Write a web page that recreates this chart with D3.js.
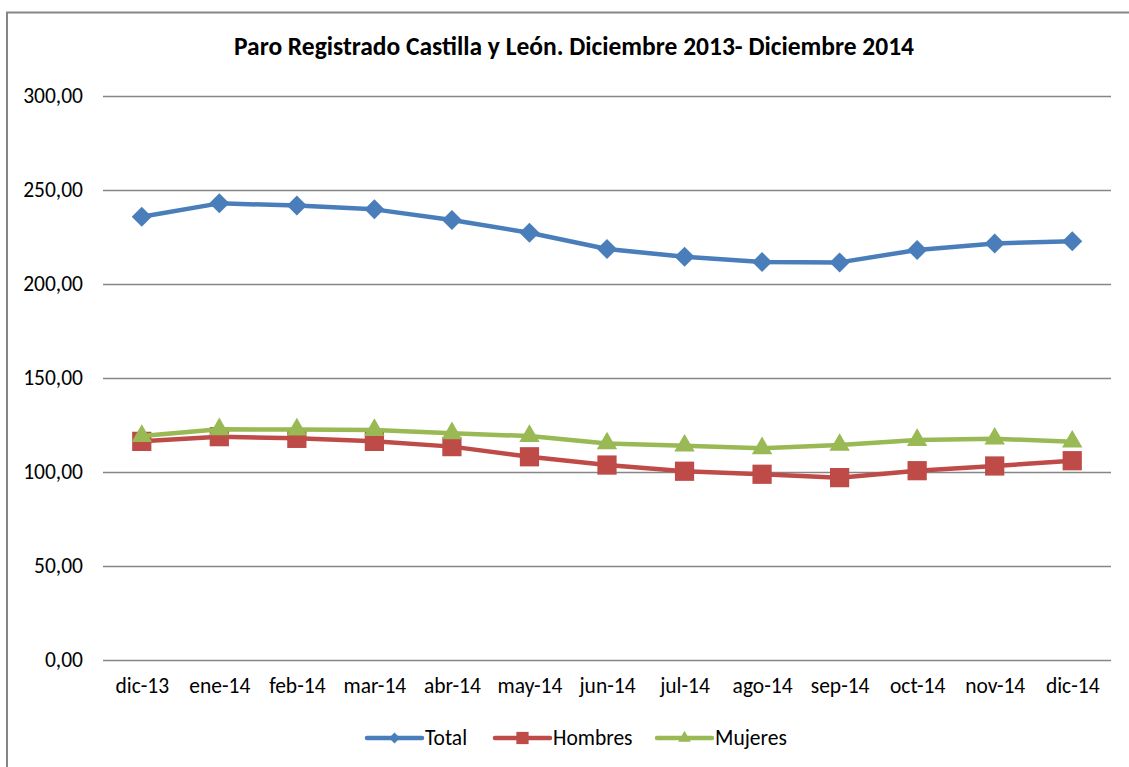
<!DOCTYPE html>
<html>
<head>
<meta charset="utf-8">
<script src="https://cdn.jsdelivr.net/npm/d3@7/dist/d3.min.js"></script>
<style>
  body { margin: 0; background: #fff; }
  text { font-family: Carlito, Lato, "Open Sans", sans-serif; fill: #000; }
</style>
</head>
<body>
<div id="chart"></div>
<script>
"use strict";

var months = ["dic-13", "ene-14", "feb-14", "mar-14", "abr-14", "may-14", "jun-14",
              "jul-14", "ago-14", "sep-14", "oct-14", "nov-14", "dic-14"];
var total   = [235.8, 242.9, 241.7, 239.7, 234.0, 227.3, 218.6, 214.5, 211.7, 211.5, 218.1, 221.6, 222.7];
var hombres = [116.3, 118.8, 117.9, 116.3, 113.5, 108.1, 103.7, 100.4, 98.8, 97.0, 100.7, 103.2, 106.0];
var mujeres = [119.1, 122.7, 122.6, 122.3, 120.6, 119.1, 115.2, 114.0, 112.6, 114.4, 117.0, 117.7, 116.1];
var yTicks  = [0, 50, 100, 150, 200, 250, 300];

var width = 1129, height = 767;
var plot = { left: 103, right: 1111, top: 96, bottom: 660 };
var labelFont = "21.5px";

var series = [
    { name: "Total",   values: total,   color: "#4A7EBB", symbol: d3.symbolSquare,   rotate: 45, size: 200, legendSize: 60 },
    { name: "Hombres", values: hombres, color: "#BE4B48", symbol: d3.symbolSquare,   rotate: 0,  size: 370, legendSize: 150 },
    { name: "Mujeres", values: mujeres, color: "#98B954", symbol: d3.symbolTriangle, rotate: 0,  size: 180, legendSize: 70 }
];

var svg = d3.select("#chart").append("svg")
    .attr("width", width)
    .attr("height", height);

// chart frame (right and bottom edges fall outside the picture)
svg.append("rect")
    .attr("x", 7).attr("y", 12.5)
    .attr("width", 1140).attr("height", 780)
    .attr("fill", "#fff")
    .attr("stroke", "#868686")
    .attr("stroke-width", 2);

svg.append("text")
    .attr("x", 574).attr("y", 55)
    .attr("text-anchor", "middle")
    .style("font-weight", "bold")
    .style("font-size", "25.5px")
    .text("Paro Registrado Castilla y León. Diciembre 2013- Diciembre 2014");

var x = d3.scalePoint()
    .domain(months)
    .range([plot.left, plot.right])
    .padding(0.5);

var y = d3.scaleLinear()
    .domain([0, 300])
    .range([plot.bottom, plot.top]);

var fmt = function (v) { return d3.format(".2f")(v).replace(".", ","); };

// gridlines + y labels
var yAxis = svg.append("g")
    .attr("transform", "translate(" + plot.left + ",0)")
    .call(d3.axisLeft(y).tickValues(yTicks).tickSize(-(plot.right - plot.left)).tickPadding(20).tickFormat(fmt));
yAxis.select(".domain").remove();
yAxis.selectAll(".tick line").attr("stroke", "#868686").attr("stroke-width", 1.5);
yAxis.selectAll(".tick text").style("font-size", labelFont).style("font-family", "Carlito, Lato, 'Open Sans', sans-serif");

var xAxis = svg.append("g")
    .attr("transform", "translate(0," + plot.bottom + ")")
    .call(d3.axisBottom(x).tickSize(0).tickPadding(18));
xAxis.select(".domain").remove();
xAxis.selectAll(".tick text").style("font-size", labelFont).style("font-family", "Carlito, Lato, 'Open Sans', sans-serif");

var line = d3.line()
    .x(function (d, i) { return x(months[i]); })
    .y(function (d) { return y(d); });

series.forEach(function (s) {
    var g = svg.append("g");
    g.append("path")
        .attr("d", line(s.values))
        .attr("fill", "none")
        .attr("stroke", s.color)
        .attr("stroke-width", 4.5)
        .attr("stroke-linejoin", "round");
    g.selectAll("path.m")
        .data(s.values)
        .enter().append("path")
        .attr("class", "m")
        .attr("d", d3.symbol().type(s.symbol).size(s.size))
        .attr("transform", function (d, i) {
            return "translate(" + x(months[i]) + "," + y(d) + ") rotate(" + s.rotate + ")";
        })
        .attr("fill", s.color);
});

// legend
var legendX = [367, 495, 657];
var legend = svg.append("g").attr("transform", "translate(0,738)");
series.forEach(function (s, i) {
    var lx = legendX[i];
    legend.append("line")
        .attr("x1", lx).attr("x2", lx + 55)
        .attr("stroke", s.color)
        .attr("stroke-width", 4.5)
        .attr("stroke-linecap", "round");
    legend.append("path")
        .attr("d", d3.symbol().type(s.symbol).size(s.legendSize))
        .attr("transform", "translate(" + (lx + 27.5) + ",0) rotate(" + s.rotate + ")")
        .attr("fill", s.color);
    legend.append("text")
        .attr("x", lx + 58)
        .attr("y", 7)
        .style("font-size", labelFont)
        .text(s.name);
});
</script>
</body>
</html>
